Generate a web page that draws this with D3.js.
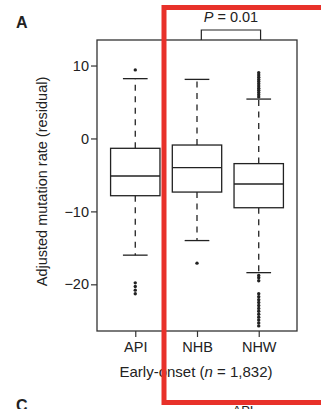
<!DOCTYPE html>
<html>
<head>
<meta charset="utf-8">
<script src="https://cdn.jsdelivr.net/npm/d3@7"></script>
<style>
  body { margin: 0; background: #fff; }
  text { font-family: "Liberation Sans", Arial, sans-serif; fill: #222; }
</style>
</head>
<body>
<div id="chart"></div>
<script>
var svgWidth = 321;
var svgHeight = 409;

// box plot summary values
var groups = ["API", "NHB", "NHW"];
var q1 = [-7.85, -7.35, -9.5];
var medians = [-5.15, -4.0, -6.25];
var q3 = [-1.35, -0.9, -3.45];
var whiskerLow = [-16.0, -14.0, -18.4];
var whiskerHigh = [8.2, 8.1, 5.4];
var outliersAPI = [9.4, -19.8, -20.3, -20.8, -21.3];
var outliersNHB = [-17.1];
var outliersNHW = [9.0, 8.7, 8.4, 8.1, 7.8, 7.5, 7.2, 6.9, 6.6, 6.3, 6.0, 5.7,
  -18.8, -19.1, -19.5, -21.3, -21.7, -22.1, -22.5, -22.9, -23.3, -23.7,
  -24.1, -24.5, -24.9, -25.3, -25.7];
var outliers = [outliersAPI, outliersNHB, outliersNHW];
var yTicks = [10, 0, -10, -20];

var margin = { top: 40, right: 24, bottom: 78, left: 97 };
var width = svgWidth - margin.left - margin.right;
var height = svgHeight - margin.top - margin.bottom;

var svg = d3.select("#chart")
  .append("svg")
  .attr("width", svgWidth)
  .attr("height", svgHeight);

var chartGroup = svg.append("g")
  .attr("transform", `translate(${margin.left}, ${margin.top})`);

var xScale = d3.scaleLinear()
  .domain([0.38, 3.62])
  .range([0, width]);

var yScale = d3.scaleLinear()
  .domain([-26.4, 13.5])
  .range([height, 0]);

var boxW = xScale(1.8) - xScale(1);
var capW = boxW / 2;
var ink = "#222";

// frame
chartGroup.append("rect")
  .attr("width", width)
  .attr("height", height)
  .attr("fill", "none")
  .attr("stroke", "#333")
  .attr("stroke-width", 1.3);

// axes
var leftAxis = d3.axisLeft(yScale)
  .tickValues(yTicks)
  .tickSize(6)
  .tickFormat(d => d < 0 ? "\u2212" + Math.abs(d) : d);

var bottomAxis = d3.axisBottom(xScale)
  .tickValues([1, 2, 3])
  .tickSize(6)
  .tickFormat((d, i) => groups[i]);

var yAxisG = chartGroup.append("g").call(leftAxis);
var xAxisG = chartGroup.append("g")
  .attr("transform", `translate(0, ${height})`)
  .call(bottomAxis);

[yAxisG, xAxisG].forEach(function(g) {
  g.select(".domain").remove();
  g.selectAll("line").attr("stroke", "#333").attr("stroke-width", 1.2);
  g.selectAll("text")
    .attr("font-size", "14.5px")
    .style("font-family", "Liberation Sans, Arial, sans-serif")
    .attr("fill", ink);
});
yAxisG.selectAll("text").attr("x", -8);
xAxisG.selectAll("text").attr("y", 11);

// boxes
groups.forEach(function(g, i) {
  var cx = xScale(i + 1);
  var grp = chartGroup.append("g");

  // whiskers (dashed)
  grp.append("line")
    .attr("x1", cx).attr("x2", cx)
    .attr("y1", yScale(q3[i])).attr("y2", yScale(whiskerHigh[i]))
    .attr("stroke", ink).attr("stroke-width", 1.3)
    .attr("stroke-dasharray", "6,5.5");
  grp.append("line")
    .attr("x1", cx).attr("x2", cx)
    .attr("y1", yScale(q1[i])).attr("y2", yScale(whiskerLow[i]))
    .attr("stroke", ink).attr("stroke-width", 1.3)
    .attr("stroke-dasharray", "6,5.5");

  // caps
  [whiskerHigh[i], whiskerLow[i]].forEach(function(v) {
    grp.append("line")
      .attr("x1", cx - capW / 2).attr("x2", cx + capW / 2)
      .attr("y1", yScale(v)).attr("y2", yScale(v))
      .attr("stroke", ink).attr("stroke-width", 1.3);
  });

  // box
  grp.append("rect")
    .attr("x", cx - boxW / 2)
    .attr("y", yScale(q3[i]))
    .attr("width", boxW)
    .attr("height", yScale(q1[i]) - yScale(q3[i]))
    .attr("fill", "#fff")
    .attr("stroke", ink).attr("stroke-width", 1.3);

  // median
  grp.append("line")
    .attr("x1", cx - boxW / 2).attr("x2", cx + boxW / 2)
    .attr("y1", yScale(medians[i])).attr("y2", yScale(medians[i]))
    .attr("stroke", ink).attr("stroke-width", 1.4);

  // outliers
  grp.selectAll("circle")
    .data(outliers[i])
    .enter()
    .append("circle")
    .attr("cx", cx)
    .attr("cy", d => yScale(d))
    .attr("r", 1.7)
    .attr("fill", ink);
});

// axis labels
chartGroup.append("text")
  .attr("transform", `translate(${-50}, ${height / 2 - 4}) rotate(-90)`)
  .attr("text-anchor", "middle")
  .attr("font-size", "14.5px")
  .text("Adjusted mutation rate (residual)");

var xLab = chartGroup.append("text")
  .attr("x", width / 2 - 1)
  .attr("y", height + 46)
  .attr("text-anchor", "middle")
  .attr("font-size", "15px");
xLab.append("tspan").text("Early-onset (");
xLab.append("tspan").attr("font-style", "italic").text("n");
xLab.append("tspan").text(" = 1,832)");

// significance bracket
var bx1 = xScale(2.07), bx2 = xScale(3.03);
chartGroup.append("path")
  .attr("d", `M${bx1},0 V-10 H${bx2} V0`)
  .attr("fill", "none")
  .attr("stroke", ink)
  .attr("stroke-width", 1.2);
var pLab = chartGroup.append("text")
  .attr("x", (bx1 + bx2) / 2)
  .attr("y", -18)
  .attr("text-anchor", "middle")
  .attr("font-size", "14.5px");
pLab.append("tspan").attr("font-style", "italic").text("P");
pLab.append("tspan").text(" = 0.01");

// panel letters
svg.append("text")
  .attr("x", 16).attr("y", 28)
  .attr("font-size", "16px").attr("font-weight", "bold")
  .text("A");
svg.append("text")
  .attr("x", 16).attr("y", 411)
  .attr("font-size", "16px").attr("font-weight", "bold")
  .text("C");
svg.append("text")
  .attr("x", 243).attr("y", 415)
  .attr("text-anchor", "middle")
  .attr("font-size", "13px")
  .text("API");

// red highlight box
svg.append("rect")
  .attr("x", 164).attr("y", 7.5)
  .attr("width", 170).attr("height", 395)
  .attr("fill", "none")
  .attr("stroke", "#e8312a")
  .attr("stroke-width", 5);
</script>
</body>
</html>
